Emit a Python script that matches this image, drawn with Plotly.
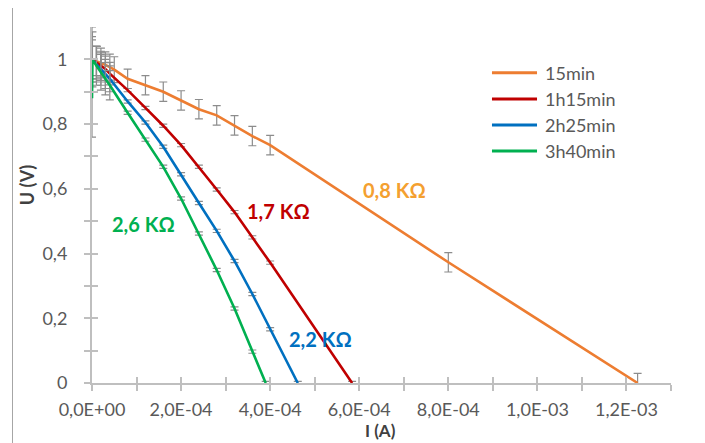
import plotly.graph_objects as go

# ---- data (I in A, U in V) ----
names = ["15min", "1h15min", "2h25min", "3h40min"]
colors = ["#ED7D31", "#C00000", "#0070C0", "#00B050"]

i_15 = [0, 0.1e-4, 0.2e-4, 0.3e-4, 0.4e-4, 0.5e-4, 0.8e-4, 1.2e-4, 1.6e-4, 2.0e-4, 2.4e-4,
        2.8e-4, 3.2e-4, 3.6e-4, 4.0e-4, 8.0e-4, 1.225e-3]
u_15 = [1.0, 0.995, 0.99, 0.983, 0.976, 0.968, 0.94, 0.92, 0.90, 0.873, 0.846,
        0.827, 0.796, 0.763, 0.735, 0.373, 0.0]
e_15 = [0.1, 0.045, 0.045, 0.04, 0.04, 0.04, 0.03, 0.03, 0.03, 0.03, 0.03,
        0.03, 0.03, 0.03, 0.03, 0.03, 0.03]

i_1h15 = [0, 0.1e-4, 0.2e-4, 0.3e-4, 0.4e-4, 0.8e-4, 1.2e-4, 1.6e-4, 2.0e-4, 2.4e-4,
          2.8e-4, 3.2e-4, 3.6e-4, 4.0e-4, 5.84e-4]
u_1h15 = [1.0, 0.99, 0.98, 0.97, 0.956, 0.905, 0.85, 0.795, 0.735, 0.668,
          0.598, 0.528, 0.45, 0.372, 0.0]
e_1h15 = [0.06, 0.05, 0.045, 0.04, 0.035, 0.005, 0.005, 0.005, 0.005, 0.005,
          0.005, 0.005, 0.005, 0.005, 0.005]

i_2h25 = [0, 0.1e-4, 0.2e-4, 0.3e-4, 0.4e-4, 0.8e-4, 1.2e-4, 1.6e-4, 2.0e-4, 2.4e-4,
          2.8e-4, 3.2e-4, 3.6e-4, 4.0e-4, 4.62e-4]
u_2h25 = [1.0, 0.985, 0.97, 0.955, 0.94, 0.87, 0.805, 0.73, 0.645, 0.556,
          0.47, 0.377, 0.275, 0.166, 0.0]
e_2h25 = [0.07, 0.055, 0.05, 0.045, 0.04, 0.005, 0.005, 0.005, 0.005, 0.005,
          0.005, 0.005, 0.005, 0.005, 0.005]

i_3h40 = [0, 0.01e-4, 0.1e-4, 0.2e-4, 0.3e-4, 0.4e-4, 0.8e-4, 1.2e-4, 1.6e-4, 2.0e-4,
          2.4e-4, 2.8e-4, 3.2e-4, 3.6e-4, 3.9e-4]
u_3h40 = [0.88, 1.0, 0.98, 0.96, 0.94, 0.92, 0.835, 0.752, 0.668, 0.57,
          0.462, 0.349, 0.23, 0.097, 0.0]
e_3h40 = [0.12, 0.085, 0.06, 0.055, 0.05, 0.045, 0.005, 0.005, 0.005, 0.005,
          0.005, 0.005, 0.005, 0.005, 0.005]

series_i = [i_15, i_1h15, i_2h25, i_3h40]
series_u = [u_15, u_1h15, u_2h25, u_3h40]
series_e = [e_15, e_1h15, e_2h25, e_3h40]

x_tickvals = [0, 1e-4, 2e-4, 3e-4, 4e-4, 5e-4, 6e-4, 7e-4, 8e-4, 9e-4, 1e-3, 1.1e-3, 1.2e-3, 1.3e-3]
x_ticktext = ["0,0E+00", "", "2,0E-04", "", "4,0E-04", "", "6,0E-04", "", "8,0E-04", "",
              "1,0E-03", "", "1,2E-03", ""]
y_tickvals = [0, 0.1, 0.2, 0.3, 0.4, 0.5, 0.6, 0.7, 0.8, 0.9, 1.0]
y_ticktext = ["0", "", "0,2", "", "0,4", "", "0,6", "", "0,8", "", "1"]

labels = ["0,8 KΩ", "1,7 KΩ", "2,2 KΩ", "2,6 KΩ"]
label_colors = ["#F4A030", "#C00000", "#0070C0", "#00B050"]
label_x = [6.8e-4, 4.18e-4, 5.12e-4, 1.145e-4]
label_y = [0.596, 0.531, 0.136, 0.49]

FONT = "Lato"
AX = "#BFBFBF"
TXT = "#595959"

fig = go.Figure()
for n, c, xs, ys, es in zip(names, colors, series_i, series_u, series_e):
    fig.add_trace(go.Scatter(
        x=xs, y=ys, mode="lines", name=n, showlegend=False,
        line=dict(color=c, width=2.6),
        error_y=dict(type="data", array=es, visible=True, color="#8C8C8C",
                     thickness=1.2, width=4),
    ))

# overlay axes for "cross" tick marks
fig.add_trace(go.Scatter(x=[None], y=[None], xaxis="x2", yaxis="y2", showlegend=False,
                         hoverinfo="skip"))

for t, c, xx, yy in zip(labels, label_colors, label_x, label_y):
    fig.add_annotation(x=xx, y=yy, text=t, showarrow=False, xanchor="center", yanchor="middle",
                       font=dict(family=FONT, size=20, color=c, weight="bold"))

# legend drawn in paper coordinates
leg_y = [0.8716, 0.7978, 0.7247, 0.6517]
for n, c, ly in zip(names, colors, leg_y):
    fig.add_shape(type="line", xref="paper", yref="paper", x0=0.6908, x1=0.7686,
                  y0=ly, y1=ly, line=dict(color=c, width=3))
    fig.add_annotation(xref="paper", yref="paper", x=0.7789, y=ly, text=n,
                       showarrow=False, xanchor="left", yanchor="middle",
                       font=dict(family=FONT, size=18, color=TXT))

fig.add_annotation(xref="paper", yref="paper", x=-0.112, y=0.556, text="U (V)",
                   textangle=-90, showarrow=False, xanchor="center", yanchor="middle",
                   font=dict(family=FONT, size=18, color="#404040", weight="bold"))
fig.add_annotation(xref="paper", yref="paper", x=0.499, y=-0.169, yanchor="bottom",
                   xanchor="center", text="I (A)", showarrow=False,
                   font=dict(family=FONT, size=17, color="#404040", weight="bold"))

fig.add_shape(type="line", xref="paper", yref="paper", x0=-0.1373, x1=-0.1373,
              y0=-0.17, y1=1.06, line=dict(color="#A6A6A6", width=1))

common_x = dict(range=[0, 1.3e-3], tickvals=x_tickvals, showgrid=False, zeroline=False,
                ticklen=6, tickwidth=1.5, tickcolor=AX)
common_y = dict(range=[0, 1.1], tickvals=y_tickvals, showgrid=False, zeroline=False,
                ticklen=6, tickwidth=1.5, tickcolor=AX)

fig.update_layout(
    width=697, height=435,
    margin=dict(l=84, r=34, t=19, b=60),
    paper_bgcolor="white", plot_bgcolor="white",
    font=dict(family=FONT, size=18, color=TXT),
    xaxis=dict(**common_x, ticktext=x_ticktext, ticks="outside", showline=True,
               linecolor=AX, linewidth=2, ticklabelstandoff=3,
               tickfont=dict(family=FONT, size=18, color=TXT)),
    yaxis=dict(**common_y, ticktext=y_ticktext, ticks="outside", showline=True,
               linecolor=AX, linewidth=2, ticklabelstandoff=13,
               tickfont=dict(family=FONT, size=18, color=TXT)),
    xaxis2=dict(**common_x, overlaying="x", anchor="y", side="bottom", ticks="inside",
                showticklabels=False, showline=False),
    yaxis2=dict(**common_y, overlaying="y", anchor="x", side="left", ticks="inside",
                showticklabels=False, showline=False),
    showlegend=False,
)

fig.write_html("out.html")
